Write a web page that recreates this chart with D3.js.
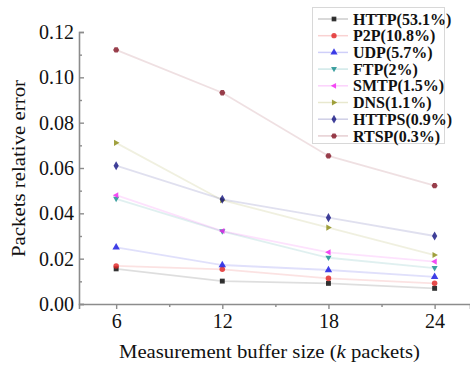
<!DOCTYPE html>
<html><head><meta charset="utf-8">
<script src="https://cdn.jsdelivr.net/npm/d3@7"></script>
<style>body{margin:0;background:#fff}svg{display:block}</style>
</head><body>
<script>
const xValues = [6, 12, 18, 24];
const seriesNames = ["HTTP(53.1%)","P2P(10.8%)","UDP(5.7%)","FTP(2%)","SMTP(1.5%)","DNS(1.1%)","HTTPS(0.9%)","RTSP(0.3%)"];
const HTTP  = [0.0155, 0.0101, 0.0091, 0.0069];
const P2P   = [0.0168, 0.0153, 0.0113, 0.0091];
const UDP   = [0.0250, 0.0172, 0.0150, 0.0120];
const FTP   = [0.0464, 0.0320, 0.0204, 0.0158];
const SMTP  = [0.0480, 0.0322, 0.0228, 0.0187];
const DNS   = [0.0711, 0.0458, 0.0337, 0.0216];
const HTTPS = [0.0610, 0.0462, 0.0381, 0.0300];
const RTSP  = [0.1121, 0.0932, 0.0653, 0.0522];
const seriesValues = [HTTP, P2P, UDP, FTP, SMTP, DNS, HTTPS, RTSP];
const yTicks = [0.00, 0.02, 0.04, 0.06, 0.08, 0.10, 0.12];

const FONT = "'Liberation Serif'";
const colors = ["#000000","#e02020","#1010e0","#108a8a","#f020f0","#8a8a10","#101080","#801020"];
const symbols = [d3.symbolSquare, d3.symbolCircle, d3.symbolTriangle, "tdown", "tleft", "tright", d3.symbolDiamond, "hex"];

const W = 470, H = 368;
const svg = d3.select("body").append("svg").attr("width", W).attr("height", H);
const x = d3.scaleLinear().domain([3.9, 26]).range([79, 470]);
const y = d3.scaleLinear().domain([0, 0.12]).range([304, 32]);

function markerPath(sym, size) {
  if (typeof sym !== "string") return d3.symbol().type(sym).size(size)();
  const r = Math.sqrt(size) * 0.62;
  let pts;
  if (sym === "hex") pts = d3.range(6).map(i => [r * Math.cos(i * Math.PI / 3), r * Math.sin(i * Math.PI / 3)]);
  else {
    const base = [[0, -r * 1.1], [r, r * 0.7], [-r, r * 0.7]];
    const ang = sym === "tdown" ? Math.PI : sym === "tleft" ? -Math.PI / 2 : Math.PI / 2;
    pts = base.map(([a, b]) => [a * Math.cos(ang) - b * Math.sin(ang), a * Math.sin(ang) + b * Math.cos(ang)]);
  }
  return "M" + pts.map(p => p.join(",")).join("L") + "Z";
}

// axes
const axisColor = "#8c8c8c";
const xAxis = svg.append("g").attr("transform", "translate(0,304)")
  .call(d3.axisBottom(x).tickValues(xValues).tickSize(5).tickFormat(d3.format("d")));
svg.append("g").attr("transform", "translate(0,304)")
  .call(d3.axisBottom(x).tickValues([9, 15, 21]).tickSize(3).tickFormat(""))
  .call(g => g.select(".domain").remove());
const yAxis = svg.append("g").attr("transform", "translate(79,0)")
  .call(d3.axisLeft(y).tickValues(yTicks).tickSize(-5).tickFormat(d3.format(".2f")));
svg.append("g").attr("transform", "translate(79,0)")
  .call(d3.axisLeft(y).tickValues([0.01, 0.03, 0.05, 0.07, 0.09, 0.11]).tickSize(-3).tickFormat(""))
  .call(g => g.select(".domain").remove());
svg.selectAll(".domain").attr("stroke", axisColor).attr("stroke-width", 1.6);
svg.selectAll(".tick line").attr("stroke", axisColor).attr("stroke-width", 1.4);
xAxis.selectAll("text").attr("font-family", FONT).attr("font-size", 20).attr("fill", "#111").attr("dy", "0.8em");
yAxis.selectAll("text").attr("font-family", FONT).attr("font-size", 20).attr("fill", "#111").attr("x", -5).attr("dy", "0.33em");

svg.append("text").attr("x", 119).attr("y", 358).attr("font-family", FONT).attr("font-size", 19).attr("fill", "#111")
  .attr("textLength", 301).attr("lengthAdjust", "spacingAndGlyphs")
  .html('Measurement buffer size (<tspan font-style="italic">k</tspan> packets)');
svg.append("text").attr("transform", "translate(25,257) rotate(-90)").attr("font-family", FONT).attr("font-size", 19).attr("fill", "#111")
  .attr("textLength", 177).attr("lengthAdjust", "spacingAndGlyphs")
  .text("Packets relative error");

// lines and markers
const line = d3.line().x((d, i) => x(xValues[i])).y(d => y(d));
seriesValues.forEach((vals, k) => {
  svg.append("path").attr("d", line(vals)).attr("fill", "none").attr("stroke", colors[k]).attr("stroke-opacity", 0.13).attr("stroke-width", 1.8);
});
seriesValues.forEach((vals, k) => {
  svg.append("g").selectAll("path").data(vals).join("path")
    .attr("transform", (d, i) => `translate(${x(xValues[i])},${y(d)})`)
    .attr("d", markerPath(symbols[k], 24)).attr("fill", colors[k]).attr("fill-opacity", 0.8);
});

// legend
const lg = svg.append("g");
lg.append("rect").attr("x", 312.5).attr("y", 7.5).attr("width", 132).attr("height", 136).attr("fill", "#fff").attr("stroke", "#d8d8d8");
seriesNames.forEach((name, k) => {
  const yy = 19 + k * 16.7;
  lg.append("line").attr("x1", 318).attr("x2", 348).attr("y1", yy).attr("y2", yy).attr("stroke", colors[k]).attr("stroke-opacity", 0.2).attr("stroke-width", 1.5);
  lg.append("path").attr("transform", `translate(334,${yy})`).attr("d", markerPath(symbols[k], 22)).attr("fill", colors[k]).attr("fill-opacity", 0.8);
  lg.append("text").attr("x", 353).attr("y", yy).attr("dy", "0.35em").attr("font-family", FONT).attr("font-size", 16).attr("font-weight", "bold").attr("fill", "#111").text(name);
});
</script>
</body></html>
